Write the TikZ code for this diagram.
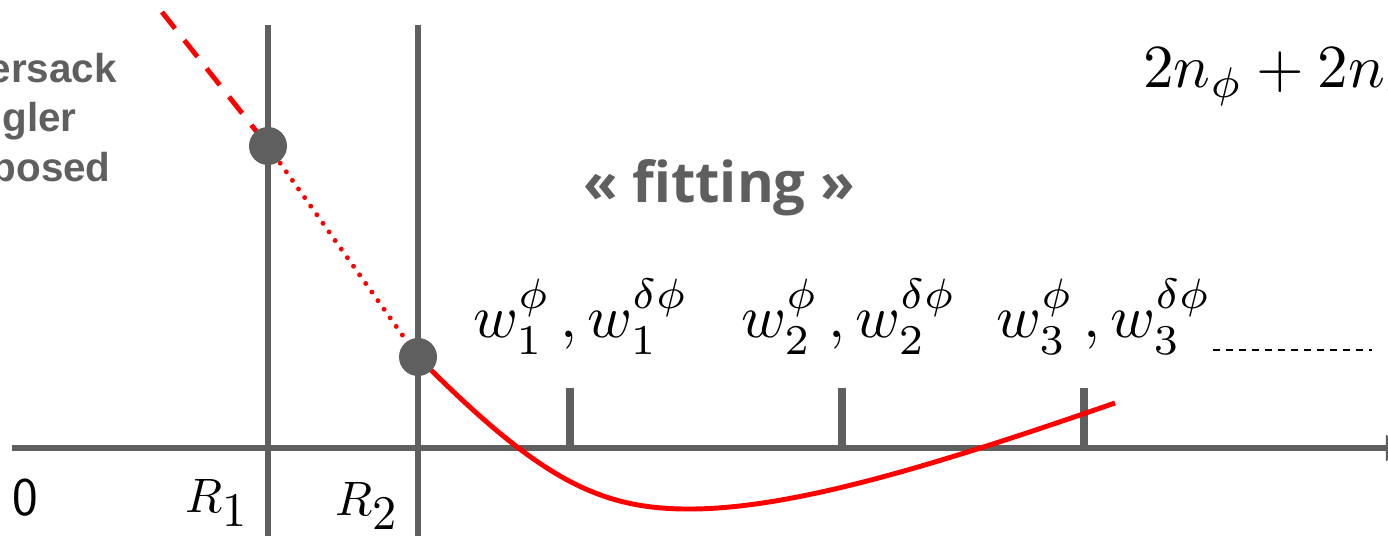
\documentclass[tikz,border=0pt]{standalone}
\usepackage{fontspec}
\newfontfamily\slidefont{Liberation Sans}
\newfontfamily\titlefont{Open Sans}
\usetikzlibrary{arrows.meta}
\definecolor{axisgray}{RGB}{95,95,95}

\begin{document}
\begin{tikzpicture}[
    x=0.02cm, y=-0.02cm,
    axisline/.style={axisgray, line width=2.9pt},
    bound/.style={axisgray, line width=3.3pt},
    tickmark/.style={axisgray, line width=4.6pt},
    dot/.style={circle, fill=axisgray, minimum size=0.76cm, inner sep=0pt},
    fitcurve/.style={red, line width=2.8pt},
    sidetxt/.style={font=\slidefont\bfseries\fontsize{23}{27}\selectfont, text=axisgray, anchor=base east, inner sep=0pt},
    mathlbl/.style={scale=3.45, anchor=base west, inner sep=0pt},
    rlbl/.style={scale=2.75, anchor=base west, inner sep=0pt},
]
\useasboundingbox (0,0) rectangle (1388,536);
\clip (0,0) rectangle (1388,536);

% key points
\coordinate (p1) at (268,146);
\coordinate (p2) at (418,357);
\coordinate (origin) at (12,448);
\coordinate (xend) at (1414,448);

% axis and the two radii
\draw[bound] (268,25) -- (268,545);
\draw[bound] (418,25) -- (418,545);
\draw[axisline, -{Triangle[length=16pt, width=14pt]}] (origin) -- (xend);
\foreach \x in {570,842,1084}
    \draw[tickmark] (\x,388) -- (\x,448);

% red curve: free part, dotted link, dashed extrapolation
\coordinate (dashstart) at (162,12);
\coordinate (curvemin) at (693,509);
\coordinate (curveend) at (1115,403);
\draw[red, line width=2.8pt, dash pattern=on 12pt off 8.5pt] (dashstart) -- (p1);
\draw[red, line width=2.8pt, line cap=round, dash pattern=on 0pt off 6pt] (p1) -- (p2);
\draw[fitcurve] (p2) .. controls (540,480) and (600,510) .. (curvemin)
    .. controls (800,508) and (950,460) .. (curveend);

\node[dot] (dot1) at (p1) {};
\node[dot] (dot2) at (p2) {};

% axis labels
\node[font=\sffamily\fontsize{31}{36}\selectfont, anchor=base west, inner sep=0pt] (zero) at (12,515) {0};
\node[rlbl] (rone) at (185,512) {$R_{\textstyle 1}$};
\node[rlbl] (rtwo) at (335,515) {$R_{\textstyle 2}$};

% weights above the ticks
\node[mathlbl] (wone) at (472,338) {$w_1^{\phi}\,{,}\,w_1^{\delta\phi}$};
\node[mathlbl] (wtwo) at (740,338) {$w_2^{\phi}\,{,}\,w_2^{\delta\phi}$};
\node[mathlbl] (wthree) at (995,338) {$w_3^{\phi}\,{,}\,w_3^{\delta\phi}$};
\coordinate (etcstart) at (1213,350);
\coordinate (etcend) at (1372,350);
\draw[black, line width=0.8pt, dash pattern=on 4pt off 3.4pt] (etcstart) -- (etcend);

% titles
\node[font=\titlefont\bfseries\fontsize{32}{38}\selectfont, text=axisgray, anchor=base, inner sep=0pt] (fitting) at (719,203) {« fitting »};
\node[mathlbl, scale=1.01] (count) at (1142,88) {$2n_\phi+2n_{\delta\phi}$};

% cut-off side text
\node[sidetxt] (lineone) at (117,83) {ersack};
\node[sidetxt] (linetwo) at (77,132) {gler};
\node[sidetxt] (linethree) at (111,182) {posed};

\end{tikzpicture}
\end{document}
